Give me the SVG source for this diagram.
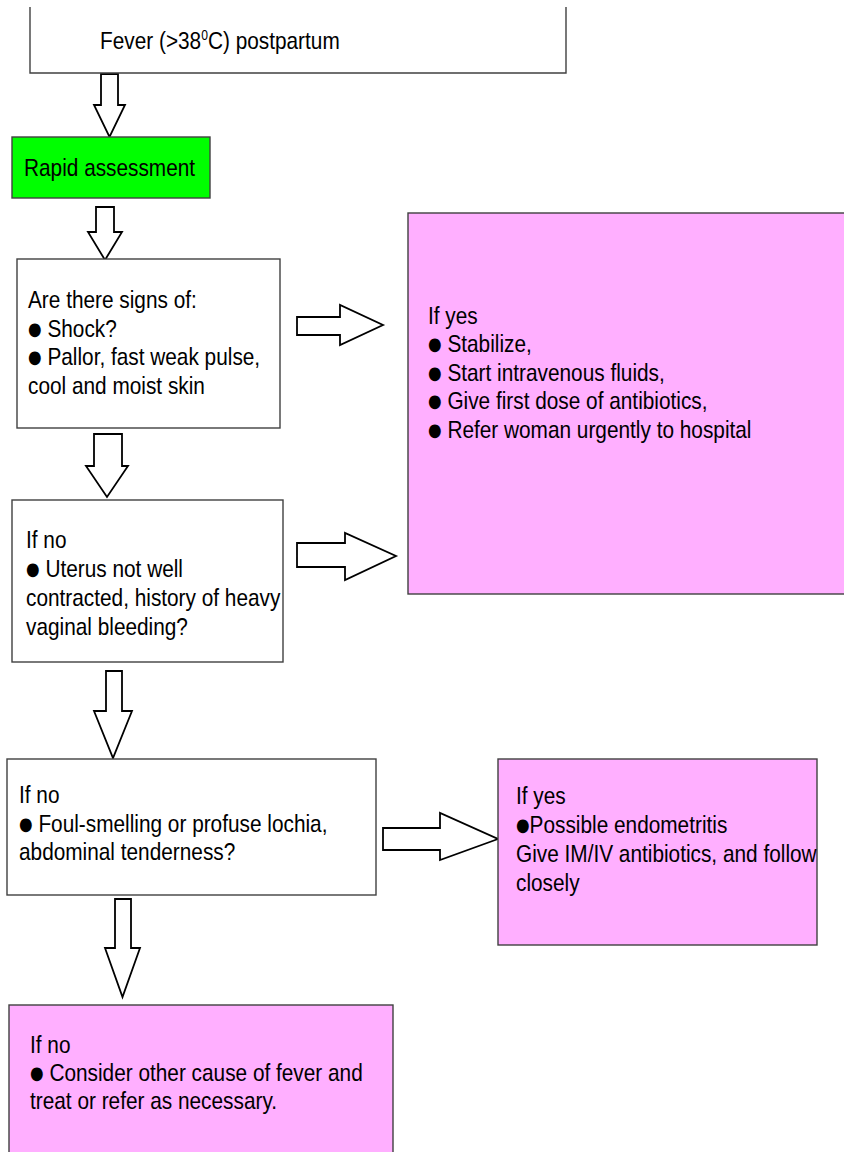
<svg xmlns="http://www.w3.org/2000/svg" width="844" height="1152" viewBox="0 0 844 1152">
  <style>
    .box { fill: #ffffff; stroke: #404040; stroke-width: 1.4; }
    .pink { fill: #ffafff; stroke: #404040; stroke-width: 1.4; }
    .green { fill: #00ff00; stroke: #404040; stroke-width: 1.4; }
    .arrow { fill: #ffffff; stroke: #000000; stroke-width: 1.8; stroke-linejoin: miter; }
    .t { font-family: "Liberation Sans", Arial, sans-serif; font-size: 24px; fill: #000000; }
    .b { font-family: "DejaVu Sans", sans-serif; font-size: 18px; baseline-shift: 2px; }
  </style>

  <rect x="0" y="0" width="844" height="1152" fill="#ffffff"/>

  <!-- hollow block arrows between the steps -->
  <g id="connectors">
    <polygon class="arrow" points="101,74 118,74 118,105 125,105 109.5,137 94,105 101,105"/>
    <polygon class="arrow" points="96,207 114,207 114,232 122,232 105,260 88,232 96,232"/>
    <polygon class="arrow" points="94,434 122,434 122,466 128,466 107,497 86,466 94,466"/>
    <polygon class="arrow" points="106,671 122,671 122,711 132,711 113,758 94,711 106,711"/>
    <polygon class="arrow" points="115,899 131,899 131,948 140,948 122.5,997 105,948 115,948"/>
    <polygon class="arrow" points="297,317 340,317 340,305 383,325 340,345 340,335 297,335"/>
    <polygon class="arrow" points="297,543 345,543 345,533 396,556 345,580 345,567 297,567"/>
    <polygon class="arrow" points="383,828 440,828 440,813 498,839 440,860 440,850 383,850"/>
  </g>

  <g id="fever">
    <path class="box" d="M30,7 V73 H566 V7"/>
    <text class="t" transform="translate(100,49) scale(0.867,1)">Fever (&gt;38<tspan font-size="14" dy="-9">0</tspan><tspan dy="9">C) postpartum</tspan></text>
  </g>

  <g id="rapid-assessment">
    <rect class="green" x="12" y="137" width="198" height="61"/>
    <text class="t" transform="translate(24,176) scale(0.867,1)">Rapid assessment</text>
  </g>

  <g id="shock-signs">
    <rect class="box" x="17" y="259" width="263" height="169"/>
    <text class="t" transform="translate(28,308) scale(0.867,1)">
      <tspan x="0" y="0">Are there signs of:</tspan>
      <tspan x="0" dy="28.7"><tspan class="b">●</tspan> Shock?</tspan>
      <tspan x="0" dy="28.7"><tspan class="b">●</tspan> Pallor, fast weak pulse,</tspan>
      <tspan x="0" dy="28.7">cool and moist skin</tspan>
    </text>
  </g>

  <g id="stabilize">
    <rect class="pink" x="408" y="213" width="440" height="381"/>
    <text class="t" transform="translate(428,324) scale(0.867,1)">
      <tspan x="0" y="0">If yes</tspan>
      <tspan x="0" dy="28.5"><tspan class="b">●</tspan> Stabilize,</tspan>
      <tspan x="0" dy="28.5"><tspan class="b">●</tspan> Start intravenous fluids,</tspan>
      <tspan x="0" dy="28.5"><tspan class="b">●</tspan> Give first dose of antibiotics,</tspan>
      <tspan x="0" dy="28.5"><tspan class="b">●</tspan> Refer woman urgently to hospital</tspan>
    </text>
  </g>

  <g id="uterus">
    <rect class="box" x="12" y="500" width="271" height="162"/>
    <text class="t" transform="translate(26,548) scale(0.867,1)">
      <tspan x="0" y="0">If no</tspan>
      <tspan x="0" dy="29"><tspan class="b">●</tspan> Uterus not well</tspan>
      <tspan x="0" dy="29">contracted, history of heavy</tspan>
      <tspan x="0" dy="29">vaginal bleeding?</tspan>
    </text>
  </g>

  <g id="lochia">
    <rect class="box" x="7" y="759" width="369" height="136"/>
    <text class="t" transform="translate(19,803) scale(0.867,1)">
      <tspan x="0" y="0">If no</tspan>
      <tspan x="0" dy="28.7"><tspan class="b">●</tspan> Foul-smelling or profuse lochia,</tspan>
      <tspan x="0" dy="28.7">abdominal tenderness?</tspan>
    </text>
  </g>

  <g id="endometritis">
    <rect class="pink" x="498" y="759" width="319" height="186"/>
    <text class="t" transform="translate(516,804) scale(0.867,1)">
      <tspan x="0" y="0">If yes</tspan>
      <tspan x="0" dy="29"><tspan class="b">●</tspan>Possible endometritis</tspan>
      <tspan x="0" dy="29">Give IM/IV antibiotics, and follow</tspan>
      <tspan x="0" dy="29">closely</tspan>
    </text>
  </g>

  <g id="other-cause">
    <rect class="pink" x="9" y="1005" width="384" height="160"/>
    <text class="t" transform="translate(30,1053) scale(0.867,1)">
      <tspan x="0" y="0">If no</tspan>
      <tspan x="0" dy="28"><tspan class="b">●</tspan> Consider other cause of fever and</tspan>
      <tspan x="0" dy="28">treat or refer as necessary.</tspan>
    </text>
  </g>
</svg>
